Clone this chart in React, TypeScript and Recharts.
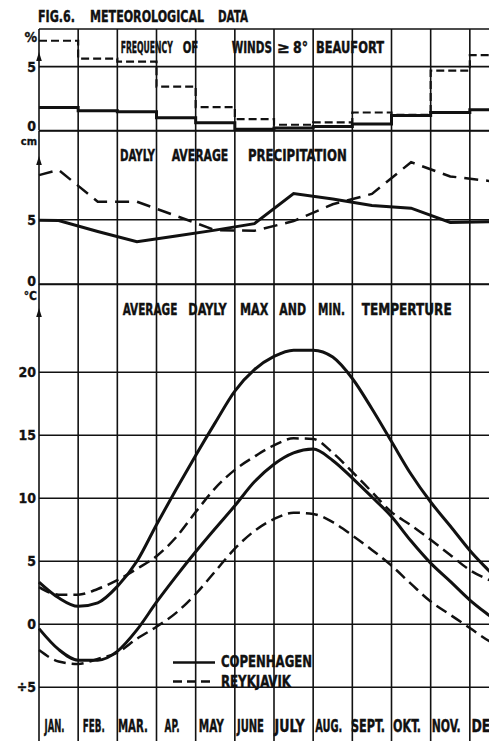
import React from 'react';
import { LineChart, Line, XAxis, YAxis, CartesianGrid, Legend } from 'recharts';

const months = ['JAN.', 'FEB.', 'MAR.', 'AP.', 'MAY', 'JUNE', 'JULY', 'AUG.', 'SEPT.', 'OKT.', 'NOV.', 'DEC'];

// frequency of winds >= 8 Beaufort (%), one step per month
const windCph = [1.8, 1.54, 1.46, 0.99, 0.6, 0.1, 0.19, 0.31, 0.5, 1.17, 1.41, 1.62];
const windRey = [7.03, 5.63, 5.39, 3.44, 1.83, 0.89, 0.45, 0.63, 1.41, 1.23, 4.69, 5.91];

// daily average precipitation, plotted mid month; edge values where the lines hit the frame
const precipCph = [4.95, 4.1, 3.3, 3.75, 4.2, 4.7, 7.03, 6.6, 6.1, 5.9, 4.8, 4.85];
const precipRey = [8.85, 6.4, 6.4, 5.3, 4.2, 4.15, 4.9, 6.2, 7.0, 9.45, 8.35, 8.0];
const precipEdgeCph = [4.97, 4.95];
const precipEdgeRey = [8.45, 8.45];

// average daily max / min temperature, read every half month (0 = 1 Jan, 12 = 31 Dec)
const tempX = [0, 0.5, 1, 1.5, 2, 2.5, 3, 3.5, 4, 4.5, 5, 5.5, 6, 6.5, 7, 7.5, 8, 8.5, 9, 9.5, 10, 10.5, 11, 11.5, 12];
const cphMax = [3.35, 2.1, 1.42, 1.7, 3.0, 5.0, 7.9, 10.7, 13.4, 16.0, 18.5, 20.2, 21.25, 21.75, 21.75, 21.2, 19.5, 17.1, 14.5, 11.9, 9.7, 7.8, 5.86, 4.2, 2.6];
const cphMin = [-0.35, -2.0, -2.85, -2.85, -2.15, -0.45, 1.75, 3.8, 5.75, 7.6, 9.4, 11.3, 12.7, 13.6, 13.9, 13.0, 11.6, 10.1, 8.55, 6.6, 4.85, 3.4, 1.92, 0.68, -0.5];
const reyMax = [2.95, 2.35, 2.35, 2.8, 3.5, 4.4, 5.4, 6.9, 8.9, 10.8, 12.25, 13.3, 14.2, 14.75, 14.7, 13.6, 12.1, 10.5, 8.9, 7.85, 6.7, 5.5, 4.3, 3.5, 2.9];
const reyMin = [-2.05, -2.95, -3.15, -2.75, -2.25, -1.15, -0.2, 0.9, 2.4, 4.2, 6.0, 7.4, 8.35, 8.85, 8.75, 8.1, 7.05, 5.9, 4.65, 3.2, 1.8, 0.75, -0.3, -1.35, -2.1];

const windTicks = [0, 5, 7.95];
const precipTicks = [0, 5, 11.86];
const tempTicks = [-5, 0, 5, 10, 15, 20, 27];

const windData = months.map((_, i) => ({ m: i, cph: windCph[i], rey: windRey[i] }));
windData.push({ m: 12, cph: windCph[11], rey: windRey[11] });

const precipData = [
  { m: 0, cph: precipEdgeCph[0], rey: precipEdgeRey[0] },
  ...months.map((_, i) => ({ m: i + 0.5, cph: precipCph[i], rey: precipRey[i] })),
  { m: 12, cph: precipEdgeCph[1], rey: precipEdgeRey[1] },
];

const tempData = tempX.map((m, i) => ({
  m,
  cphMax: cphMax[i],
  cphMin: cphMin[i],
  reyMax: reyMax[i],
  reyMin: reyMin[i],
}));

const monthEdges = Array.from({ length: 13 }, (_, i) => i);
const monthMids = months.map((_, i) => i + 0.5);

const FONT = "'Liberation Sans Narrow', 'DejaVu Sans Condensed', 'Roboto', sans-serif";
const INK = '#111';
const CHART_W = 519;
const MARGIN_X = { left: 0, right: 10 };
const SQUEEZE = 0.6; // the hand lettering is far narrower than any installed font

// printed width of each month label
const monthLabelWidth: Record<string, number> = {
  'JAN.': 20, 'FEB.': 22, 'MAR.': 30, 'AP.': 15, MAY: 25, JUNE: 27,
  JULY: 30, 'AUG.': 27, 'SEPT.': 34, 'OKT.': 28, 'NOV.': 29, DEC: 28,
};
const legendWidth: Record<string, number> = { COPENHAGEN: 91, REYKJAVIK: 70 };
const legendDash: Record<string, string | undefined> = { COPENHAGEN: undefined, REYKJAVIK: '9 5' };

// narrow lettering: horizontal squeeze plus an exact printed width
const Narrow = ({ x, y, w, size, children, anchor = 'start' }: any) => {
  const left = anchor === 'middle' ? x - w / 2 : x;
  return (
    <text
      transform={`translate(${left},${y}) scale(${SQUEEZE},1)`}
      textLength={w / SQUEEZE}
      lengthAdjust="spacingAndGlyphs"
      fontFamily={FONT}
      fontWeight="bold"
      fontSize={size}
      fill={INK}
      stroke={INK}
      strokeWidth={0.4}
    >
      {children}
    </text>
  );
};

const Arrow = ({ x, y }: { x: number; y: number }) => (
  <path d={`M${x},${y} L${x - 2.8},${y + 9} L${x + 2.8},${y + 9} Z`} fill={INK} />
);

const tickText = (x: number, y: number, s: string, size = 14) => (
  <text x={x} y={y} textAnchor="end" fontFamily={FONT} fontWeight="bold" fontSize={size} fill={INK} stroke={INK} strokeWidth={0.3}>
    {s}
  </text>
);

const WindTick = (p: any) => {
  const v = p.payload.value;
  if (v === windTicks[2]) {
    return (
      <g>
        {tickText(p.x + 1, p.y + 13, '%')}
        <Arrow x={p.x + 3} y={p.y + 23} />
      </g>
    );
  }
  return tickText(p.x, p.y + (v === 0 ? 0 : 5), String(v));
};

const PrecipTick = (p: any) => {
  const v = p.payload.value;
  if (v === precipTicks[2]) {
    return (
      <g>
        {tickText(p.x + 1, p.y + 14, 'cm', 11)}
        <Arrow x={p.x + 3} y={p.y + 25} />
      </g>
    );
  }
  return tickText(p.x, p.y + (v === 0 ? 1 : 5), String(v));
};

const TempTick = (p: any) => {
  const v = p.payload.value;
  if (v === tempTicks[6]) {
    return (
      <g>
        {tickText(p.x + 1, p.y + 16, '°C', 12)}
        <Arrow x={p.x + 3} y={p.y + 24} />
      </g>
    );
  }
  return tickText(p.x, p.y + 5, v < 0 ? `÷${Math.abs(v)}` : String(v));
};

const MonthTick = (p: any) => {
  const label = months[Math.floor(p.payload.value)];
  return (
    <Narrow x={p.x - 4} y={p.y - 17} w={monthLabelWidth[label]} size={17.5} anchor="middle">
      {label}
    </Narrow>
  );
};

const LegendBox = (props: any) => {
  const names: string[] = [];
  (props.payload || []).forEach((e: any) => {
    if (!names.includes(e.value)) names.push(e.value);
  });
  return (
    <svg width={160} height={42} style={{ display: 'block' }}>
      {names.map((n, i) => (
        <g key={n}>
          <line x1={3} x2={45} y1={12.5 + i * 19} y2={12.5 + i * 19} stroke={INK} strokeWidth={2.5} strokeDasharray={legendDash[n]} />
          <Narrow x={51} y={17 + i * 20} w={legendWidth[n]} size={15.5}>
            {n}
          </Narrow>
        </g>
      ))}
    </svg>
  );
};

// annotation text: [word, left, right]
const headings: { y: number; words: [string, number, number][] }[] = [
  { y: 21.5, words: [['FIG.6.', 38, 75], ['METEOROLOGICAL', 90, 204], ['DATA', 218, 248]] },
  {
    y: 53,
    words: [['FREQUENCY', 120.7, 172.7], ['OF', 182.7, 198.3], ['WINDS', 231.7, 272], ['≥', 277, 290], ['8°', 293, 308], ['BEAUFORT', 316, 384]],
  },
  { y: 161, words: [['DAYLY', 120, 155], ['AVERAGE', 171.7, 228.3], ['PRECIPITATION', 248, 346.7]] },
  {
    y: 315,
    words: [['AVERAGE', 122.7, 177.3], ['DAYLY', 188.3, 226.7], ['MAX', 240, 268.3], ['AND', 279.3, 306], ['MIN.', 318, 345], ['TEMPERTURE', 361.7, 451.7]],
  },
];

const gridProps = { stroke: INK, strokeWidth: 1.6, strokeOpacity: 1 };

export default function App() {
  return (
    <div style={{ position: 'relative', width: 497, height: 749, margin: -8, overflow: 'hidden', background: '#fff' }}>
      <div style={{ position: 'absolute', left: 0, top: 14 }}>
        <LineChart width={CHART_W} height={131.5} data={windData} margin={{ top: 15, bottom: 15, ...MARGIN_X }}>
          <CartesianGrid {...gridProps} />
          <XAxis dataKey="m" type="number" domain={[0, 12]} ticks={monthEdges} hide />
          <YAxis domain={[0, windTicks[2]]} ticks={windTicks} width={39} axisLine={false} tickLine={false} tickSize={0} tickMargin={3} tick={WindTick} />
          <Line type="stepAfter" dataKey="rey" stroke={INK} strokeWidth={2.2} strokeDasharray="8 4" dot={false} activeDot={false} isAnimationActive={false} />
          <Line type="stepAfter" dataKey="cph" stroke={INK} strokeWidth={3} dot={false} activeDot={false} isAnimationActive={false} />
        </LineChart>
      </div>
      <div style={{ position: 'absolute', left: 0, top: 115.5 }}>
        <LineChart width={CHART_W} height={183.5} data={precipData} margin={{ top: 15, bottom: 15, ...MARGIN_X }}>
          <CartesianGrid {...gridProps} />
          <XAxis dataKey="m" type="number" domain={[0, 12]} ticks={monthEdges} hide />
          <YAxis domain={[0, precipTicks[2]]} ticks={precipTicks} width={39} axisLine={false} tickLine={false} tickSize={0} tickMargin={3} tick={PrecipTick} />
          <Line type="linear" dataKey="rey" stroke={INK} strokeWidth={2.5} strokeDasharray="14 8" dot={false} activeDot={false} isAnimationActive={false} />
          <Line type="linear" dataKey="cph" stroke={INK} strokeWidth={3} dot={false} activeDot={false} isAnimationActive={false} />
        </LineChart>
      </div>
      <div style={{ position: 'absolute', left: 0, top: 269 }}>
        <LineChart width={CHART_W} height={480} data={tempData} margin={{ top: 15, bottom: 0, ...MARGIN_X }}>
          <CartesianGrid {...gridProps} />
          <XAxis dataKey="m" type="number" domain={[0, 12]} ticks={monthEdges} hide />
          <XAxis xAxisId="months" dataKey="m" type="number" domain={[0, 12]} ticks={monthMids} mirror axisLine={false} tickLine={false} tickSize={0} tickMargin={0} tick={MonthTick} interval={0} />
          <YAxis domain={[-9.9, tempTicks[6]]} ticks={tempTicks} width={39} axisLine={false} tickLine={false} tickSize={0} tickMargin={3} tick={TempTick} allowDataOverflow />
          <Legend layout="vertical" align="center" verticalAlign="middle" content={LegendBox} wrapperStyle={{ position: 'absolute', left: 170, top: 381, width: 160 }} />
          <Line name="COPENHAGEN" type="monotone" dataKey="cphMax" stroke={INK} strokeWidth={3} dot={false} activeDot={false} isAnimationActive={false} />
          <Line name="COPENHAGEN" type="monotone" dataKey="cphMin" stroke={INK} strokeWidth={3} dot={false} activeDot={false} isAnimationActive={false} />
          <Line name="REYKJAVIK" type="monotone" dataKey="reyMax" stroke={INK} strokeWidth={2.5} strokeDasharray="12 6" dot={false} activeDot={false} isAnimationActive={false} />
          <Line name="REYKJAVIK" type="monotone" dataKey="reyMin" stroke={INK} strokeWidth={2.5} strokeDasharray="12 6" dot={false} activeDot={false} isAnimationActive={false} />
        </LineChart>
      </div>
      <svg width={497} height={749} style={{ position: 'absolute', left: 0, top: 0, pointerEvents: 'none' }}>
        {headings.map((h, hi) =>
          h.words.map(([w, x0, x1], wi) => (
            <Narrow key={`${hi}-${wi}`} x={x0} y={h.y} w={x1 - x0} size={15.5}>
              {w}
            </Narrow>
          ))
        )}
      </svg>
    </div>
  );
}
